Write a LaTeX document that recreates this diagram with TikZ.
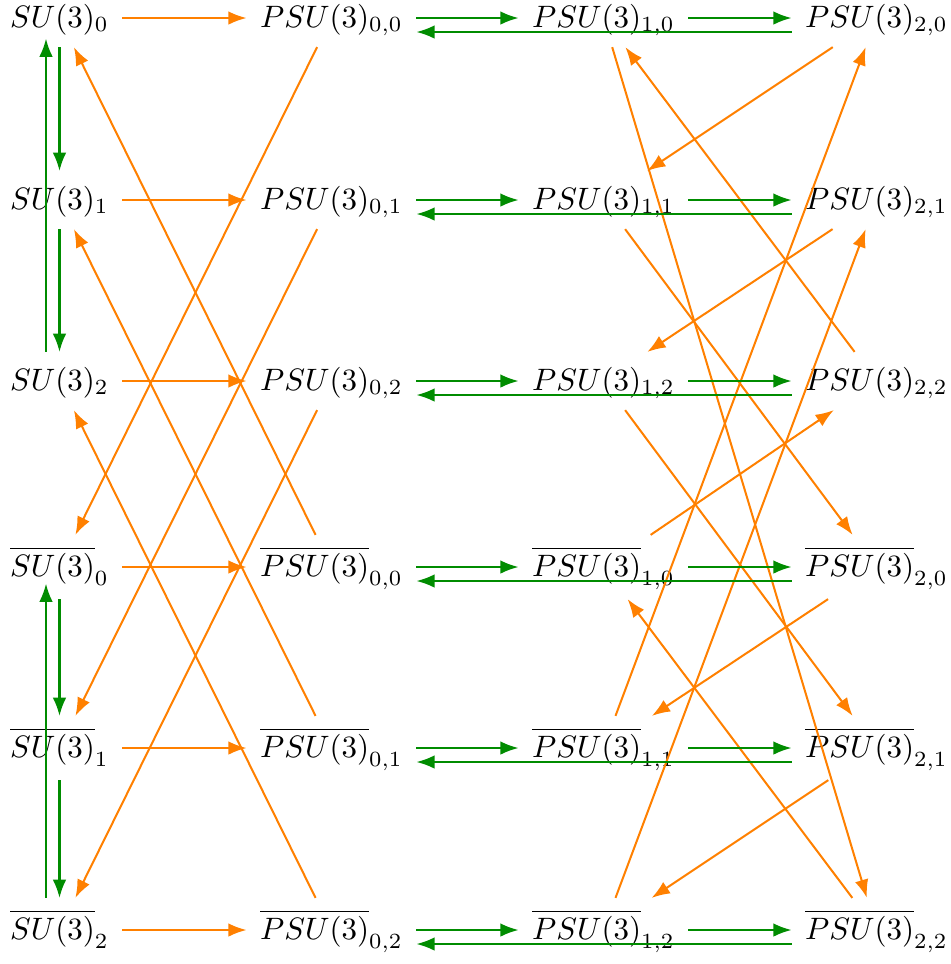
\documentclass[tikz,border=0pt]{standalone}
\usetikzlibrary{arrows.meta}
\definecolor{myorange}{RGB}{255,128,0}
\definecolor{mygreen}{RGB}{0,140,0}
\begin{document}
\begin{tikzpicture}[x=0.323pt,y=-0.323pt,
  lab/.style={anchor=base,inner xsep=4.2pt,inner ysep=0pt,text height=12.11pt,text depth=6.3pt},
  blab/.style={anchor=base,inner xsep=4.2pt,inner ysep=0pt,text height=13.08pt,text depth=7.27pt},
  oarr/.style={myorange,line width=0.65pt,-{Latex[length=5.9pt,width=4.4pt]}},
  garr/.style={mygreen,line width=0.65pt,-{Latex[length=5.9pt,width=4.4pt]}},
]
\useasboundingbox (0,0) rectangle (951,964);
% column 1
\node[lab]  (s0)  at (59.5,27)  {$SU(3)_0$};
\node[lab]  (s1)  at (59.5,209) {$SU(3)_1$};
\node[lab]  (s2)  at (59.5,390) {$SU(3)_2$};
\node[blab] (bs0) at (59.5,576) {$\overline{SU(3)}_0$};
\node[blab] (bs1) at (59.5,757) {$\overline{SU(3)}_1$};
\node[blab] (bs2) at (59.5,939) {$\overline{SU(3)}_2$};
% column 2
\node[lab]  (p00)  at (331.5,27)  {$PSU(3)_{0,0}$};
\node[lab]  (p01)  at (331.5,209) {$PSU(3)_{0,1}$};
\node[lab]  (p02)  at (331.5,390) {$PSU(3)_{0,2}$};
\node[blab] (bp00) at (331.5,576) {$\overline{PSU(3)}_{0,0}$};
\node[blab] (bp01) at (331.5,757) {$\overline{PSU(3)}_{0,1}$};
\node[blab] (bp02) at (331.5,939) {$\overline{PSU(3)}_{0,2}$};
% column 3
\node[lab]  (p10)  at (603.5,27)  {$PSU(3)_{1,0}$};
\node[lab]  (p11)  at (603.5,209) {$PSU(3)_{1,1}$};
\node[lab]  (p12)  at (603.5,390) {$PSU(3)_{1,2}$};
\node[blab] (bp10) at (603.5,576) {$\overline{PSU(3)}_{1,0}$};
\node[blab] (bp11) at (603.5,757) {$\overline{PSU(3)}_{1,1}$};
\node[blab] (bp12) at (603.5,939) {$\overline{PSU(3)}_{1,2}$};
% column 4
\node[lab]  (p20)  at (876.5,27)  {$PSU(3)_{2,0}$};
\node[lab]  (p21)  at (876.5,209) {$PSU(3)_{2,1}$};
\node[lab]  (p22)  at (876.5,390) {$PSU(3)_{2,2}$};
\node[blab] (bp20) at (876.5,576) {$\overline{PSU(3)}_{2,0}$};
\node[blab] (bp21) at (876.5,757) {$\overline{PSU(3)}_{2,1}$};
\node[blab] (bp22) at (876.5,939) {$\overline{PSU(3)}_{2,2}$};

% orange arrows, columns 1-2
\draw[oarr] (s0) -- (p00);
\draw[oarr] (s1) -- (p01);
\draw[oarr] (s2) -- (p02);
\draw[oarr] (bs0) -- (bp00);
\draw[oarr] (bs1) -- (bp01);
\draw[oarr] (bs2) -- (bp02);
\draw[oarr] (p00) -- (bs0);
\draw[oarr] (p01) -- (bs1);
\draw[oarr] (p02) -- (bs2);
\draw[oarr] (bp00) -- (s0);
\draw[oarr] (bp01) -- (s1);
\draw[oarr] (bp02) -- (s2);
% orange arrows, columns 3-4
\draw[oarr] (p10) -- (bp22);
\draw[oarr] (p22) -- (p10);
\draw[oarr] (p20) -- (p11);
\draw[oarr] (bp11) -- (p20);
\draw[oarr] (p21) -- (p12);
\draw[oarr] (bp12) -- (p21);
\draw[oarr] (p11) -- (bp20);
\draw[oarr] (p12) -- (bp21);
\draw[oarr] (bp10) -- (p22);
\draw[oarr] (bp20) -- (bp11);
\draw[oarr] (bp21) -- (bp12);
\draw[oarr] (bp22) -- (bp10);

% green arrows, column 1
\draw[garr] (s0) -- (s1);
\draw[garr] (s1) -- (s2);
\draw[garr,shorten >=-2.75pt] ([xshift=-4.36pt]s2.north) -- ([xshift=-4.36pt]s0.south);
\draw[garr] (bs0) -- (bs1);
\draw[garr] (bs1) -- (bs2);
\draw[garr,shorten >=-5pt] ([xshift=-4.36pt]bs2.north) -- ([xshift=-4.36pt]bs0.south);

% green arrows, columns 2-4
\foreach \k in {0,1,2}{
  \draw[garr] (p0\k) -- (p1\k);
  \draw[garr] (p1\k) -- (p2\k);
  \draw[garr] ([yshift=-4.52pt]p2\k.west) -- ([yshift=-4.52pt]p0\k.east);
  \draw[garr] (bp0\k) -- (bp1\k);
  \draw[garr] (bp1\k) -- (bp2\k);
  \draw[garr] ([yshift=-4.52pt]bp2\k.west) -- ([yshift=-4.52pt]bp0\k.east);
}
\end{tikzpicture}
\end{document}
